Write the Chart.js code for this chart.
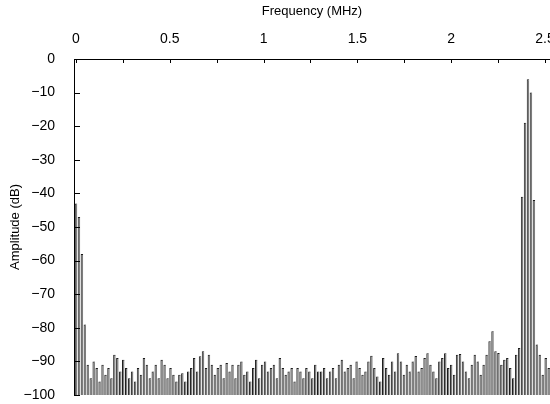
<!DOCTYPE html>
<html>
<head>
<meta charset="utf-8">
<script src="https://cdn.jsdelivr.net/npm/chart.js@4/dist/chart.umd.min.js"></script>
<style>
    html, body { margin: 0; padding: 0; background: #fff; }
    #wrap { width: 550px; height: 404px; }
</style>
</head>
<body>
<div id="wrap"><canvas id="spectrum"></canvas></div>
<script>
// FFT bin spacing of the spectrum (MHz)
const binWidth = 0.01575;

// Amplitude per bin (dB)
const amplitudes = [
    -43, -47, -58, -79, -91, -95, -90, -92, -96, -91,
    -94, -92, -95, -88, -89, -93, -89.5, -92, -95, -93,
    -96, -92, -94, -89, -91, -95, -93, -91, -95, -89.5,
    -91, -95, -92, -94, -96, -94, -93.5, -96, -93, -92,
    -89, -93, -88.5, -87, -92, -88, -91, -94, -92, -91,
    -95, -90.5, -93, -91, -95, -91, -90, -94, -93, -96,
    -92, -89.5, -95, -91, -90, -93, -92, -91, -95, -89,
    -92, -94, -93, -92, -96, -92, -93, -95, -92, -93,
    -95, -91, -93, -93, -92, -95, -93, -92, -95, -91,
    -89.5, -93, -92, -91, -95, -90, -92, -94, -93, -90,
    -88.3, -92, -94.5, -96, -89, -92, -94, -90, -93, -87.6,
    -90, -94, -91, -93, -90, -88.4, -93, -92, -89, -87.6,
    -91, -93, -95, -90, -89, -87.6, -92, -91, -94, -88,
    -87.8, -90, -93, -95, -91, -88, -90, -94, -91, -88,
    -84, -81, -87, -87.5, -91, -89.5, -89, -92, -95, -88,
    -86, -41, -19, -6, -10, -42, -85, -88, -94, -89, -92
];

// Top axis ticks (MHz) and their labels
const xTicks = [0, 0.25, 0.5, 0.75, 1, 1.25, 1.5, 1.75, 2, 2.25, 2.5];
const xTickLabels = ['0', '', '0.5', '', '1', '', '1.5', '', '2', '', '2.5'];

const fontFamily = "'Liberation Sans', Arial, sans-serif";
const tickFont = { family: fontFamily, size: 14 };
const titleFont = { family: fontFamily, size: 13 };

// small tick marks pointing into the plot
const inwardTicks = {
    id: 'inwardTicks',
    afterDatasetsDraw(chart) {
        const { ctx, chartArea, scales } = chart;
        ctx.save();
        ctx.strokeStyle = '#000';
        ctx.lineWidth = 1;
        ctx.beginPath();
        scales.x.ticks.forEach(t => {
            const px = Math.round(scales.x.getPixelForValue(t.value)) + 0.5;
            ctx.moveTo(px, chartArea.top);
            ctx.lineTo(px, chartArea.top + 4);
        });
        scales.y.ticks.forEach(t => {
            const py = Math.round(scales.y.getPixelForValue(t.value)) + 0.5;
            ctx.moveTo(chartArea.left, py);
            ctx.lineTo(chartArea.left + 6, py);
        });
        ctx.stroke();
        ctx.restore();
    }
};

document.addEventListener('DOMContentLoaded', function() {
    const points = amplitudes.map((v, i) => ({ x: i * binWidth, y: v }));

    new Chart(document.getElementById('spectrum'), {
        type: 'bar',
        data: {
            datasets: [{
                data: points,
                base: -100,
                backgroundColor: '#7e7e7e',
                borderColor: '#1c1c1c',
                borderWidth: { left: 1, top: 1, right: 0, bottom: 0 },
                borderSkipped: false,
                barPercentage: 0.85,
                categoryPercentage: 1
            }]
        },
        options: {
            responsive: true,
            maintainAspectRatio: false,
            animation: false,
            layout: { padding: { left: 0, right: 0, top: 0, bottom: 9 } },
            plugins: { legend: { display: false }, tooltip: { enabled: false } },
            scales: {
                x: {
                    type: 'linear',
                    position: 'top',
                    min: -0.0107,
                    max: 2.527,
                    offset: false,
                    grid: { display: false, drawTicks: false, offset: false },
                    border: { display: true, color: '#000', width: 1 },
                    afterBuildTicks: scale => {
                        scale.ticks = xTicks.map(v => ({ value: v }));
                    },
                    afterFit: scale => {
                        scale.height = 59;
                        scale.paddingLeft = 0;
                        scale.paddingRight = 0;
                    },
                    ticks: {
                        autoSkip: false,
                        maxRotation: 0,
                        padding: 11,
                        color: '#000',
                        font: tickFont,
                        callback: (value, index) => xTickLabels[index]
                    },
                    title: {
                        display: true,
                        text: 'Frequency (MHz)',
                        color: '#000',
                        font: titleFont,
                        padding: { top: 4, bottom: 0 }
                    }
                },
                y: {
                    min: -100,
                    max: 0,
                    grid: { display: false, drawTicks: false },
                    border: { display: true, color: '#000', width: 1 },
                    afterFit: scale => {
                        scale.width = 74;
                        scale.paddingTop = 0;
                        scale.paddingBottom = 0;
                    },
                    ticks: {
                        stepSize: 10,
                        padding: 19,
                        color: '#000',
                        font: tickFont,
                        callback: value => String(value).replace('-', '\u2212')
                    },
                    title: {
                        display: true,
                        text: 'Amplitude (dB)',
                        color: '#000',
                        font: titleFont,
                        padding: { top: 8, bottom: 0 }
                    }
                }
            }
        },
        plugins: [inwardTicks]
    });
});
</script>
</body>
</html>
